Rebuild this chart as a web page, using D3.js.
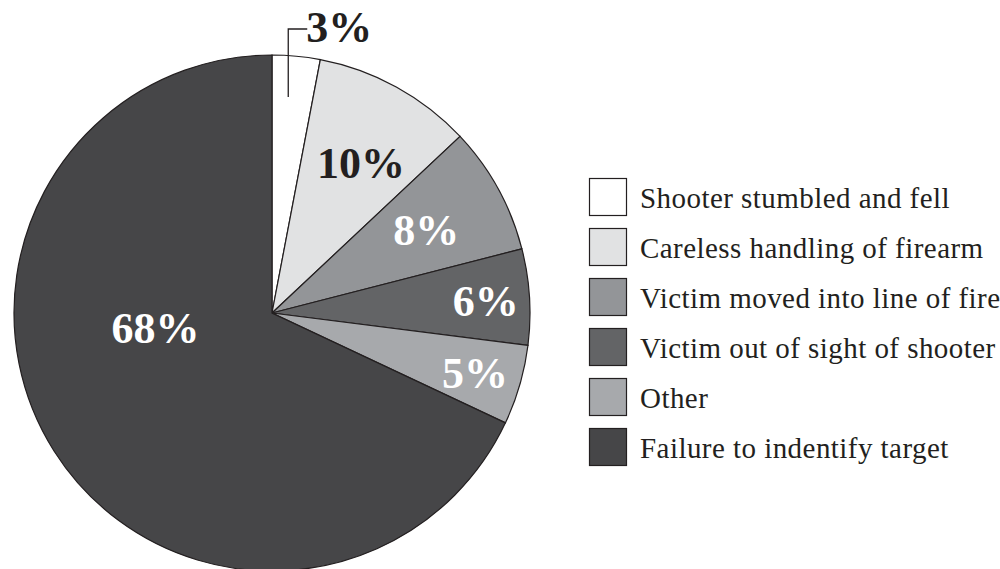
<!DOCTYPE html>
<html>
<head>
<meta charset="utf-8">
<script src="https://cdn.jsdelivr.net/npm/d3@7"></script>
<style>
	body { margin: 0; background: #fff; }
	svg { display: block; }
</style>
</head>
<body>
<svg class="display"></svg>
<script>
	//slices in clockwise order starting at 12 o'clock
	const data = [
		{ label: 'Shooter stumbled and fell', value: 3, fill: '#ffffff', text: '#231f20', labelAngle: 4.3, labelR: 0.84, outside: true },
		{ label: 'Careless handling of firearm', value: 10, fill: '#e1e2e3', text: '#231f20', labelAngle: 30.5, labelR: 0.68 },
		{ label: 'Victim moved into line of fire', value: 8, fill: '#939598', text: '#ffffff', labelAngle: 61.5, labelR: 0.68 },
		{ label: 'Victim out of sight of shooter', value: 6, fill: '#636466', text: '#ffffff', labelAngle: 86.5, labelR: 0.83 },
		{ label: 'Other', value: 5, fill: '#a7a9ac', text: '#ffffff', labelAngle: 106.3, labelR: 0.82 },
		{ label: 'Failure to indentify target', value: 68, fill: '#464648', text: '#ffffff', labelAngle: 263, labelR: 0.455 }
	];

	const totalWidth = 1000,
		totalHeight = 569,
		cx = 272,
		cy = 313,
		radius = 258;

	const svg = d3
		.select('.display')
		.attr('width', totalWidth)
		.attr('height', totalHeight);

	const pie = d3
		.pie()
		.sort(null)
		.value((d) => d.value);

	const arc = d3.arc().innerRadius(0).outerRadius(radius);

	const display = svg
		.append('g')
		.attr('transform', 'translate(' + cx + ',' + cy + ')');

	display
		.selectAll('path')
		.data(pie(data))
		.enter()
		.append('path')
		.attr('d', arc)
		.attr('fill', (d) => d.data.fill)
		.attr('stroke', '#231f20')
		.attr('stroke-width', 1.2);

	//polar helper, angle in degrees clockwise from top
	const polar = (deg, r) => {
		const a = (deg * Math.PI) / 180;
		return [Math.sin(a) * r, -Math.cos(a) * r];
	};

	const font = '"Liberation Serif", "Times New Roman", serif';

	data.forEach((d) => {
		const p = polar(d.labelAngle, d.labelR * radius);
		if (d.outside) {
			//leader line for the small slice
			const top = -cy + 29;
			display
				.append('path')
				.attr('d', 'M' + p[0] + ',' + p[1] + 'V' + top + 'H' + (p[0] + 19))
				.attr('fill', 'none')
				.attr('stroke', '#231f20')
				.attr('stroke-width', 1.3);
			display
				.append('text')
				.attr('x', p[0] + 18)
				.attr('y', top + 13)
				.attr('font-family', font)
				.attr('font-weight', 'bold')
				.style('font-size', '44px')
				.attr('fill', d.text)
				.text(d.value + '%');
		} else {
			display
				.append('text')
				.attr('x', p[0])
				.attr('y', p[1] + 16)
				.attr('text-anchor', 'middle')
				.attr('font-family', font)
				.attr('font-weight', 'bold')
				.style('font-size', '44px')
				.attr('fill', d.text)
				.text(d.value + '%');
		}
	});

	//legend
	const legendY = d3
		.scaleBand()
		.domain(data.map((d) => d.label))
		.range([178, 478])
		.paddingInner(0);

	const legend = svg
		.append('g')
		.selectAll('g')
		.data(data)
		.enter()
		.append('g')
		.attr('transform', (d) => 'translate(589,' + legendY(d.label) + ')');

	legend
		.append('rect')
		.attr('x', 0.5)
		.attr('y', 0.5)
		.attr('width', 37)
		.attr('height', 37)
		.attr('fill', (d) => d.fill)
		.attr('stroke', '#231f20')
		.attr('stroke-width', 1.2);

	legend
		.append('text')
		.attr('x', 51)
		.attr('y', 30)
		.attr('font-family', font)
		.style('font-size', '29px')
		.style('letter-spacing', '0.45px')
		.attr('fill', '#231f20')
		.text((d) => d.label);
</script>
</body>
</html>
